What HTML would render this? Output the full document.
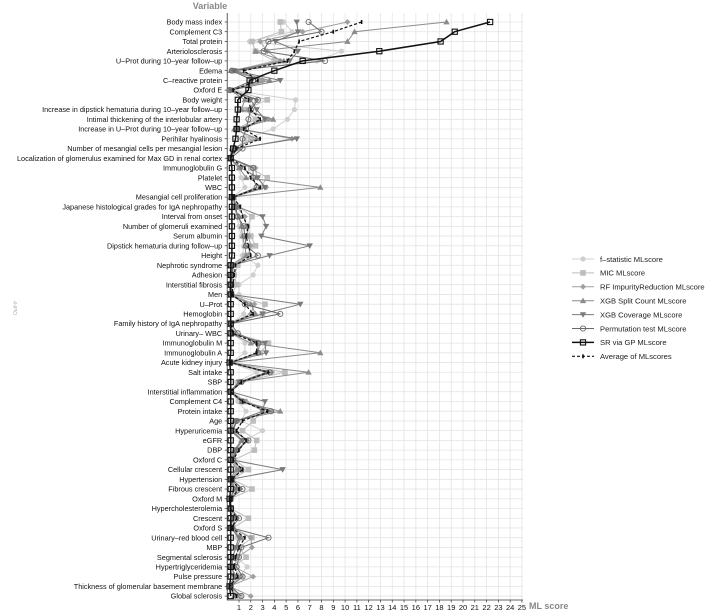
<!DOCTYPE html>
<html><head><meta charset="utf-8"><style>
html,body{margin:0;padding:0;background:#fff;}
svg{display:block;font-family:"Liberation Sans",sans-serif;}
</style></head><body>
<svg id="chart" width="709" height="615" viewBox="0 0 709 615" xmlns="http://www.w3.org/2000/svg">
<text x="210" y="9" font-size="9" font-weight="bold" fill="#888" text-anchor="middle">Variable</text>
<text x="529" y="609" font-size="9" font-weight="bold" fill="#888">ML score</text>
<text transform="translate(17,308) rotate(-90)" font-size="5" fill="#aaa" font-style="italic" text-anchor="middle">Outf-fr</text>
<g id="grid"></g><g id="axes"></g><g id="series"></g><g id="legend"></g>
</svg>
<script>
const categories=["Body mass index","Complement C3","Total  protein","Arteriolosclerosis","U\u2013Prot during 10\u2013year follow\u2013up","Edema","C\u2013reactive protein","Oxford E","Body weight","Increase in dipstick hematuria during 10\u2013year follow\u2013up","Intimal thickening of the interlobular artery","Increase in U\u2013Prot during 10\u2013year follow\u2013up","Perihilar hyalinosis","Number of mesangial cells per mesangial lesion","Localization of glomerulus examined for Max GD in renal cortex","Immunoglobulin G","Platelet","WBC","Mesangial cell proliferation","Japanese histological grades for IgA nephropathy","Interval from onset","Number of glomeruli examined","Serum albumin","Dipstick hematuria during follow\u2013up","Height","Nephrotic syndrome","Adhesion","Interstitial fibrosis","Men","U\u2013Prot","Hemoglobin","Family history of IgA nephropathy","Urinary\u2013 WBC","Immunoglobulin M","Immunoglobulin A","Acute kidney injury","Salt intake","SBP","Interstitial inflammation","Complement C4","Protein intake","Age","Hyperuricemia","eGFR","DBP","Oxford C","Cellular crescent","Hypertension","Fibrous crescent","Oxford M","Hypercholesterolemia","Crescent","Oxford S","Urinary\u2013red blood cell","MBP","Segmental sclerosis","Hypertriglyceridemia","Pulse pressure","Thickness of glomerular basement membrane","Global sclerosis"];
const fstat=[4.8,5.5,1.9,9.7,7.6,0.8,2.0,0.4,5.8,5.7,5.1,3.9,1.5,0.8,0.3,1.0,1.2,1.5,0.5,0.6,0.8,1.0,1.2,1.4,1.3,2.6,2.2,1.0,1.0,1.6,1.4,0.3,0.5,1.5,1.5,0.3,2.5,0.8,0.4,0.9,1.6,1.2,3.0,1.5,0.9,0.5,0.8,0.5,0.8,0.3,0.4,0.6,0.5,0.8,0.9,0.8,1.7,1.0,0.3,0.9];
const mic=[4.5,4.6,2.1,2.4,4.0,0.5,2.8,0.3,3.4,1.5,2.4,0.8,2.0,0.6,0.3,2.0,3.4,2.8,0.6,1.0,2.1,1.7,2.0,2.4,1.5,0.9,0.6,0.8,0.4,3.2,3.0,0.3,0.6,3.5,2.8,0.3,4.9,1.1,0.3,1.5,3.0,2.2,1.3,2.5,2.3,0.6,1.8,0.4,2.1,0.3,0.3,1.8,0.5,2.1,1.0,1.6,0.5,1.2,0.2,1.1];
const rf=[10.2,6.4,2.8,3.4,4.5,0.4,3.0,0.3,2.5,1.8,3.5,1.2,5.5,0.9,0.3,2.4,2.5,3.3,0.5,0.8,1.5,1.6,1.8,2.0,1.8,0.5,0.5,0.4,0.3,2.3,2.0,0.2,0.5,2.8,2.6,0.2,3.8,1.3,0.3,1.6,3.8,0.8,0.5,1.7,0.9,0.4,1.0,0.3,1.0,0.3,0.3,0.7,0.4,2.0,2.1,0.9,0.6,2.2,0.2,2.0];
const xgbSplit=[18.6,10.8,10.2,2.4,4.8,0.3,3.6,0.2,1.5,1.2,3.9,0.6,2.5,0.4,0.2,1.0,1.6,7.9,0.3,0.5,1.0,1.2,1.3,1.5,1.6,0.3,0.3,0.2,0.2,2.0,2.4,0.2,0.3,2.0,7.9,0.2,6.9,1.0,0.2,1.2,4.5,0.6,0.3,1.2,0.6,0.3,0.8,0.2,0.6,0.2,0.2,0.4,0.3,1.2,0.8,0.4,0.3,0.8,0.2,0.6];
const xgbCov=[5.9,6.0,4.1,6.0,5.3,0.6,4.5,0.3,2.0,2.5,3.2,0.9,5.9,0.7,0.2,1.2,2.6,3.2,0.4,0.9,3.0,3.3,2.9,7.0,3.6,0.4,0.4,0.3,0.3,6.2,3.0,0.2,0.4,3.2,3.3,0.2,3.3,1.0,0.3,3.2,3.0,0.8,0.4,1.3,0.7,0.4,4.7,0.3,0.7,0.2,0.2,0.5,0.3,1.0,0.7,0.5,0.4,0.6,0.2,0.7];
const perm=[6.9,8.0,3.5,3.1,8.3,0.4,2.2,0.2,2.6,2.0,1.8,1.6,1.3,1.3,0.3,2.2,2.2,2.5,0.5,0.7,0.9,1.4,1.5,1.6,2.6,0.5,0.4,0.3,0.3,1.5,4.5,0.3,0.9,2.6,2.6,0.3,3.6,1.2,0.3,1.3,3.7,0.8,0.5,1.8,0.8,0.5,1.2,0.4,1.3,0.3,0.3,1.0,0.4,3.5,1.2,1.0,0.8,1.3,0.3,1.2];
const srgp=[22.3,19.3,18.1,12.9,6.4,4.0,1.9,1.8,0.9,0.9,0.8,0.8,0.7,0.5,0.3,0.4,0.4,0.4,0.4,0.4,0.4,0.4,0.4,0.4,0.4,0.3,0.3,0.3,0.3,0.3,0.3,0.3,0.3,0.3,0.3,0.2,0.3,0.3,0.3,0.3,0.3,0.3,0.3,0.3,0.3,0.3,0.3,0.3,0.3,0.2,0.3,0.3,0.3,0.3,0.3,0.3,0.3,0.3,0.2,0.3];
const avgScore=[11.4,9.0,6.1,5.7,5.1,1.4,2.6,0.5,1.8,2.0,2.8,1.4,2.8,0.8,0.3,1.5,2.0,2.8,0.5,1.1,1.3,1.8,1.6,1.8,2.0,0.7,0.6,0.5,0.4,1.5,2.2,0.3,0.5,2.5,2.5,0.3,3.5,1.2,0.3,1.3,3.4,1.3,0.8,1.6,1.0,0.5,1.3,0.4,1.0,0.3,0.3,0.8,0.4,1.5,1.0,0.7,0.6,0.9,0.2,0.8];
const xTicks=[1,2,3,4,5,6,7,8,9,10,11,12,13,14,15,16,17,18,19,20,21,22,23,24,25];
const seriesNames=["f\u2013statistic MLscore","MIC MLscore","RF ImpurityReduction MLscore","XGB Split Count MLscore","XGB Coverage MLscore","Permutation test MLscore","SR via GP MLscore","Average of MLscores"];

const NS="http://www.w3.org/2000/svg";
const L=227.2,R=523,T=13,B=600,UNIT=11.79,Y0=22,DY=9.73;
const xs=v=>L+v*UNIT, ys=i=>Y0+i*DY;
function mk(tag,attrs,parent){const e=document.createElementNS(NS,tag);for(const k in attrs)e.setAttribute(k,attrs[k]);parent.appendChild(e);return e;}
const grid=document.getElementById('grid'),axes=document.getElementById('axes'),ser=document.getElementById('series'),leg=document.getElementById('legend');
for(let v=1;v<=25;v++){const g=mk('line',{x1:xs(v),x2:xs(v),y1:T,y2:B,stroke:'#e4e4e4','stroke-width':0.8},grid);

}
categories.forEach((c,i)=>{const g=mk('line',{x1:L,x2:R,y1:ys(i),y2:ys(i),stroke:'#e4e4e4','stroke-width':0.8},grid);


const t=mk('text',{x:L-5,y:ys(i)+2.6,'font-size':7.3,'text-anchor':'end',fill:'#111'},axes);t.textContent=c;


mk('line',{x1:L-2.5,x2:L,y1:ys(i),y2:ys(i),stroke:'#333','stroke-width':0.7},axes);});
const ax=mk('path',{d:`M${L},${T}V${B}H${R}`,fill:'none',stroke:'#333','stroke-width':0.8},axes);


xTicks.forEach(v=>{mk('line',{x1:xs(v),x2:xs(v),y1:B,y2:B+2.5,stroke:'#333','stroke-width':0.7},axes);
const t=mk('text',{x:xs(v),y:B+10,'font-size':7.5,'text-anchor':'middle',fill:'#111'},axes);t.textContent=v;

});

const styles=[
 {data:fstat,c:'#cfcfcf',m:'circle',w:1,fill:true},
 {data:mic,c:'#bdbdbd',m:'square',w:1,fill:true},
 {data:rf,c:'#a0a0a0',m:'diamond',w:1,fill:true},
 {data:xgbSplit,c:'#8c8c8c',m:'tri',w:1,fill:true},
 {data:xgbCov,c:'#7a7a7a',m:'itri',w:1,fill:true},
 {data:perm,c:'#6a6a6a',m:'ocircle',w:1,fill:false},
 {data:srgp,c:'#111',m:'osquare',w:1.5,fill:false},
 {data:avgScore,c:'#111',m:'small',w:1.2,fill:true,dash:'3,2'}];
function marker(m,x,y,c,g){
 if(m==='circle')return mk('circle',{cx:x,cy:y,r:2.6,fill:c},g);
 if(m==='square')return mk('rect',{x:x-2.8,y:y-2.8,width:5.6,height:5.6,fill:c},g);
 if(m==='diamond')return mk('path',{d:`M${x},${y-3}L${x+3},${y}L${x},${y+3}L${x-3},${y}Z`,fill:c},g);
 if(m==='tri')return mk('path',{d:`M${x},${y-3.2}L${x+3.2},${y+2.4}L${x-3.2},${y+2.4}Z`,fill:c},g);
 if(m==='itri')return mk('path',{d:`M${x},${y+3.2}L${x+3.2},${y-2.4}L${x-3.2},${y-2.4}Z`,fill:c},g);
 if(m==='ocircle')return mk('circle',{cx:x,cy:y,r:2.6,fill:'none',stroke:c,'stroke-width':0.9},g);
 if(m==='osquare')return mk('rect',{x:x-2.6,y:y-2.6,width:5.2,height:5.2,fill:'none',stroke:c,'stroke-width':1.1},g);
 return mk('path',{d:`M${x},${y-2}V${y+2}`,stroke:c,'stroke-width':1.6},g);}
styles.forEach((s,k)=>{const g=mk('g',{},ser);
 
 
 const d=s.data.map((v,i)=>(i?'L':'M')+xs(v).toFixed(1)+','+ys(i).toFixed(1)).join('');
 const p=mk('path',{d:d,fill:'none',stroke:s.c,'stroke-width':s.w},g);if(s.dash)p.setAttribute('stroke-dasharray',s.dash);
 
 
 s.data.forEach((v,i)=>{const mm=marker(s.m,xs(v),ys(i),s.c,g);
 
 });
 const ly=259+k*13.9;
 const lg=mk('g',{},leg);
 
 
 const ll=mk('line',{x1:572,x2:594,y1:ly,y2:ly,stroke:s.c,'stroke-width':s.w},lg);if(s.dash)ll.setAttribute('stroke-dasharray',s.dash);
 marker(s.m,583,ly,s.c,lg);
 const t=mk('text',{x:600,y:ly+2.8,'font-size':7.6,fill:'#222'},lg);t.textContent=seriesNames[k];});
</script>
</body></html>
